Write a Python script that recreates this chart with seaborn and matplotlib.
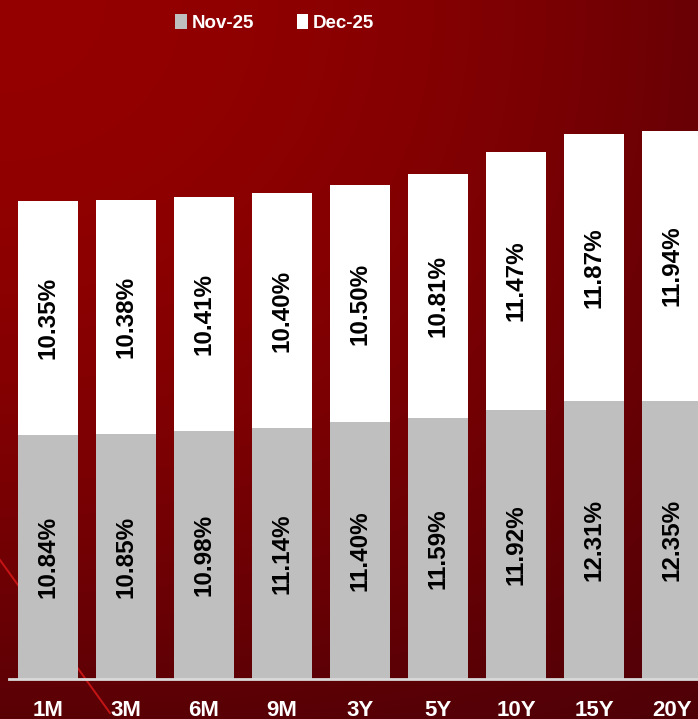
import numpy as np
import pandas as pd
import seaborn as sns
import matplotlib.pyplot as plt
from matplotlib.patches import Patch

# Data
tenors = ["1M", "3M", "6M", "9M", "3Y", "5Y", "10Y", "15Y", "20Y"]
nov_25 = [10.84, 10.85, 10.98, 11.14, 11.40, 11.59, 11.92, 12.31, 12.35]
dec_25 = [10.35, 10.38, 10.41, 10.40, 10.50, 10.81, 11.47, 11.87, 11.94]

df = pd.DataFrame({"tenor": tenors, "nov": nov_25, "dec": dec_25})
df["total"] = df["nov"] + df["dec"]

W, H = 698, 719
fig = plt.figure(figsize=(W / 100, H / 100), dpi=100)

# Background gradient (bright red top-left -> dark maroon bottom-right)
bg = fig.add_axes([0, 0, 1, 1], zorder=-1)
xx, yy = np.meshgrid(np.linspace(0, 1, W), np.linspace(0, 1, H))
u = 0.55 * xx ** 2
v = 0.75 * yy ** 2
t = 1 - (1 - u) * (1 - v)
img = np.zeros((H, W, 3))
img[..., 0] = (149 - 80 * t) / 255
img[..., 2] = (8 * t) / 255
bg.imshow(img, extent=[0, 1, 0, 1], aspect="auto", origin="upper")
# decorative diagonal streak
bg.plot([0, 110 / W], [1 - 560 / H, 1 - 713 / H], color="#d81818", lw=1.4, alpha=0.85)
bg.set_xlim(0, 1)
bg.set_ylim(0, 1)
bg.axis("off")

# Main axes
ax = fig.add_axes([9 / W, 40 / H, 702 / W, 679 / H])
ax.set_facecolor("none")
sns.barplot(data=df, x="tenor", y="total", color="white", width=0.77,
            saturation=1, ax=ax)
sns.barplot(data=df, x="tenor", y="nov", color="#bfbfbf", width=0.77,
            saturation=1, ax=ax)

ax.set_xlim(-0.5, len(tenors) - 0.5)
ax.set_ylim(0, 679 / 22.55)

# value labels
for i, (n, d) in enumerate(zip(nov_25, dec_25)):
    ax.text(i, n / 2, f"{n:.2f}%", rotation=90, ha="center", va="center",
            fontsize=17.5, fontweight="bold", color="black", family="Liberation Sans")
    ax.text(i, n + d / 2, f"{d:.2f}%", rotation=90, ha="center", va="center",
            fontsize=17.5, fontweight="bold", color="black", family="Liberation Sans")

for s in ["top", "right", "left"]:
    ax.spines[s].set_visible(False)
ax.spines["bottom"].set_color("#d9d9d9")
ax.spines["bottom"].set_linewidth(2)
ax.spines["bottom"].set_zorder(5)
ax.set_yticks([])
ax.set_xlabel("")
ax.set_ylabel("")
ax.tick_params(axis="x", length=0, pad=15, colors="white")
for lbl in ax.get_xticklabels():
    lbl.set_fontsize(16)
    lbl.set_fontweight("bold")
    lbl.set_family("Liberation Sans")

# legend
handles = [Patch(facecolor="#bfbfbf", label="Nov-25"),
           Patch(facecolor="white", label="Dec-25")]
fig.legend(handles=handles, loc="center left", bbox_to_anchor=(166 / W, 1 - 23 / H),
           ncol=2, frameon=False, borderpad=0, handlelength=0.6, handleheight=0.8,
           handletextpad=0.25, columnspacing=2.3,
           prop={"family": "Liberation Sans", "weight": "bold", "size": 13.5},
           labelcolor="white")

fig.savefig("out.png", dpi=100)
